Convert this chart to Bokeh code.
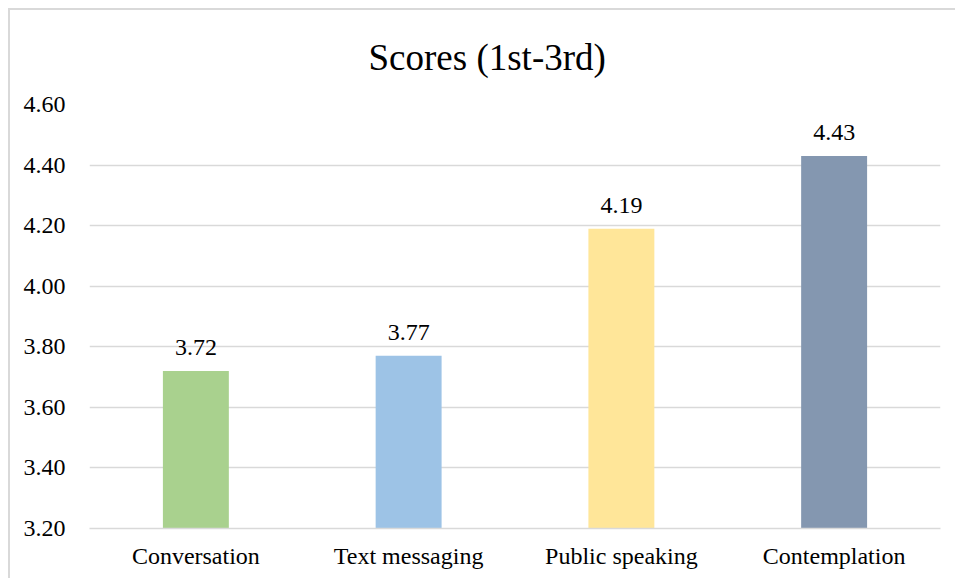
from bokeh.plotting import figure
from bokeh.models import ColumnDataSource, FixedTicker, NumeralTickFormatter, LabelSet, FactorRange, Range1d
from bokeh.embed import file_html
from bokeh.resources import INLINE

title_text = "Scores (1st-3rd)"
categories = ["Conversation", "Text messaging", "Public speaking", "Contemplation"]
scores = [3.72, 3.77, 4.19, 4.43]
colors = ["#A9D18E", "#9DC3E6", "#FFE699", "#8497B0"]
score_labels = ["3.72", "3.77", "4.19", "4.43"]
y_ticks = [3.2, 3.4, 3.6, 3.8, 4.0, 4.2, 4.4, 4.6]

FONT = "'Liberation Serif', 'Times New Roman', serif"

src = ColumnDataSource(dict(cat=categories, val=scores, color=colors, lab=score_labels))

p = figure(x_range=FactorRange(*categories, range_padding=0), y_range=Range1d(3.2, 4.6),
           width=947, height=570, output_backend="svg", toolbar_location=None,
           title=title_text)
p.styles = {"border-left": "2px solid #d9d9d9", "border-top": "2px solid #d9d9d9",
            "margin-left": "8px", "margin-top": "8px"}
p.min_border_left = 79
p.min_border_right = 17
p.min_border_top = 94
p.min_border_bottom = 52
p.outline_line_color = None
p.background_fill_color = "white"
p.border_fill_color = "white"

p.title.text_font = FONT
p.title.text_font_size = "37px"
p.title.text_font_style = "normal"
p.title.align = "left"
p.title.offset = 279
p.title.vertical_align = "top"
p.title.standoff = 50
p.title.text_color = "black"

p.vbar(x="cat", top="val", bottom=3.2, width=0.31, color="color", source=src, line_color=None)

labels = LabelSet(x="cat", y="val", text="lab", source=src, text_align="center",
                  text_baseline="alphabetic", y_offset=16, text_font=FONT,
                  text_font_size="24px", text_color="black")
p.add_layout(labels)

p.yaxis.ticker = FixedTicker(ticks=y_ticks)
p.yaxis.formatter = NumeralTickFormatter(format="0.00")
p.yaxis.axis_line_color = None
p.yaxis.major_tick_line_color = None
p.yaxis.minor_tick_line_color = None
p.yaxis.major_label_text_font = FONT
p.yaxis.major_label_text_font_size = "24px"
p.yaxis.major_label_text_color = "black"
p.yaxis.major_label_standoff = 18

p.xaxis.axis_line_color = "#d9d9d9"
p.xaxis.axis_line_width = 1.5
p.xaxis.major_tick_line_color = None
p.xaxis.minor_tick_line_color = None
p.xaxis.major_label_text_font = FONT
p.xaxis.major_label_text_font_size = "24px"
p.xaxis.major_label_text_color = "black"
p.xaxis.major_label_standoff = 8

p.xgrid.grid_line_color = None
p.ygrid.ticker = FixedTicker(ticks=y_ticks)
p.ygrid.grid_line_color = "#d9d9d9"
p.ygrid.grid_line_width = 1.5

html = file_html(p, INLINE)
html = html.replace("<head>", "<head><style>html, body { overflow: hidden; }</style>", 1)
open("out.html", "w").write(html)
